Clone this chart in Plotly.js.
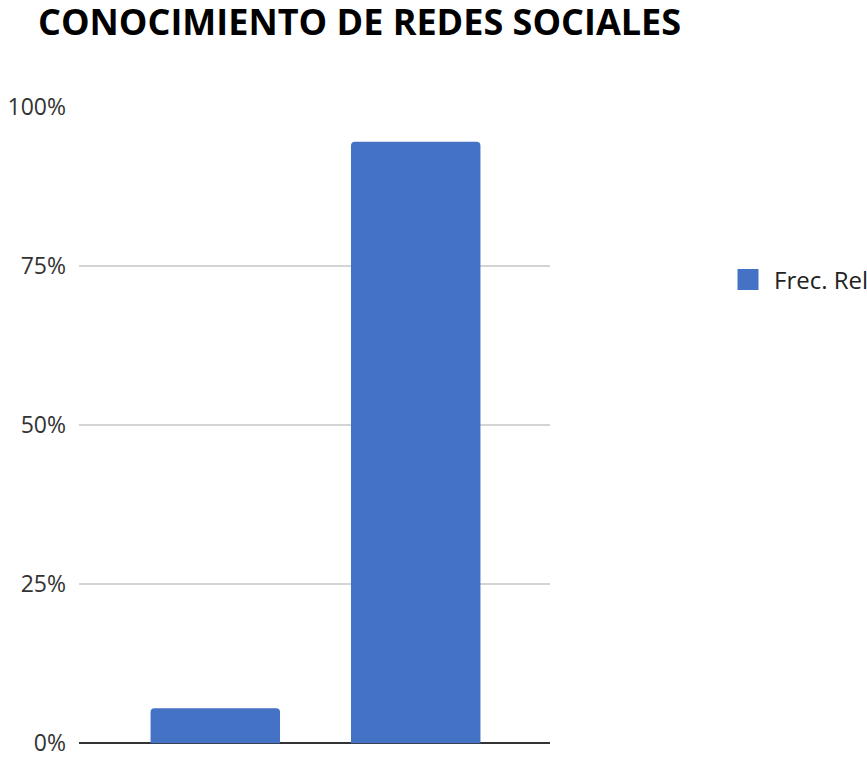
<!DOCTYPE html>
<html>
<head>
<meta charset="utf-8">
<script src="https://cdn.plot.ly/plotly-3.0.1.min.js"></script>
<style>
  body { margin: 0; background: #fff; }
  #chart { width: 867px; height: 757px; }
</style>
</head>
<body>
<div id="chart"></div>
<script>
const categories = ["No", "Sí"];
const frecRelativa = [0.055, 0.945];
const seriesName = "Frec. Relativa";
const yTicks = [0, 0.25, 0.5, 0.75, 1];

const barColor = '#4472C4';

const data = [{
    x: categories,
    y: frecRelativa,
    type: 'bar',
    name: seriesName,
    showlegend: false,
    marker: { color: barColor, cornerradius: 4 },
    hoverinfo: 'none'
}, {
    // legend entry only, so the swatch can be drawn bigger
    x: [null],
    y: [null],
    type: 'scatter',
    mode: 'markers',
    name: seriesName,
    marker: { symbol: 'square', size: 16, color: barColor, line: { color: barColor, width: 5 } },
    hoverinfo: 'none'
}];

const layout = {
    width: 867,
    height: 757,
    margin: { l: 79, r: 317, t: 106, b: 13, autoexpand: false },
    paper_bgcolor: '#ffffff',
    plot_bgcolor: '#ffffff',
    bargap: 0.354,
    font: { family: 'Open Sans, sans-serif', color: '#333333' },
    title: {
        text: '<b>CONOCIMIENTO DE REDES SOCIALES</b>',
        font: { family: 'Open Sans, sans-serif', size: 36, color: '#000000' },
        xref: 'container', x: 38 / 867, xanchor: 'left',
        yref: 'container', y: 1 - 10 / 757, yanchor: 'top'
    },
    xaxis: {
        type: 'category',
        range: [-0.68, 1.67],
        showticklabels: false,
        showgrid: false,
        zeroline: false,
        showline: false,
        fixedrange: true
    },
    yaxis: {
        range: [-0.001, 1.001],
        tickvals: yTicks,
        tickformat: '.0%',
        tickfont: { size: 23, color: '#333333' },
        ticklabeloverflow: 'allow',
        showgrid: true,
        gridcolor: '#d4d4d4',
        gridwidth: 1.5,
        zeroline: true,
        zerolinecolor: '#333333',
        zerolinewidth: 2,
        showline: false,
        ticklabelstandoff: 12,
        fixedrange: true
    },
    legend: {
        x: (722 - 79) / 471,
        xanchor: 'left',
        y: (744 - 280) / 638,
        yanchor: 'middle',
        itemsizing: 'trace',
        itemwidth: 42,
        font: { size: 24, color: '#222222' },
        bgcolor: 'rgba(0,0,0,0)'
    }
};

Plotly.newPlot('chart', data, layout, { displayModeBar: false, staticPlot: true });
</script>
</body>
</html>
